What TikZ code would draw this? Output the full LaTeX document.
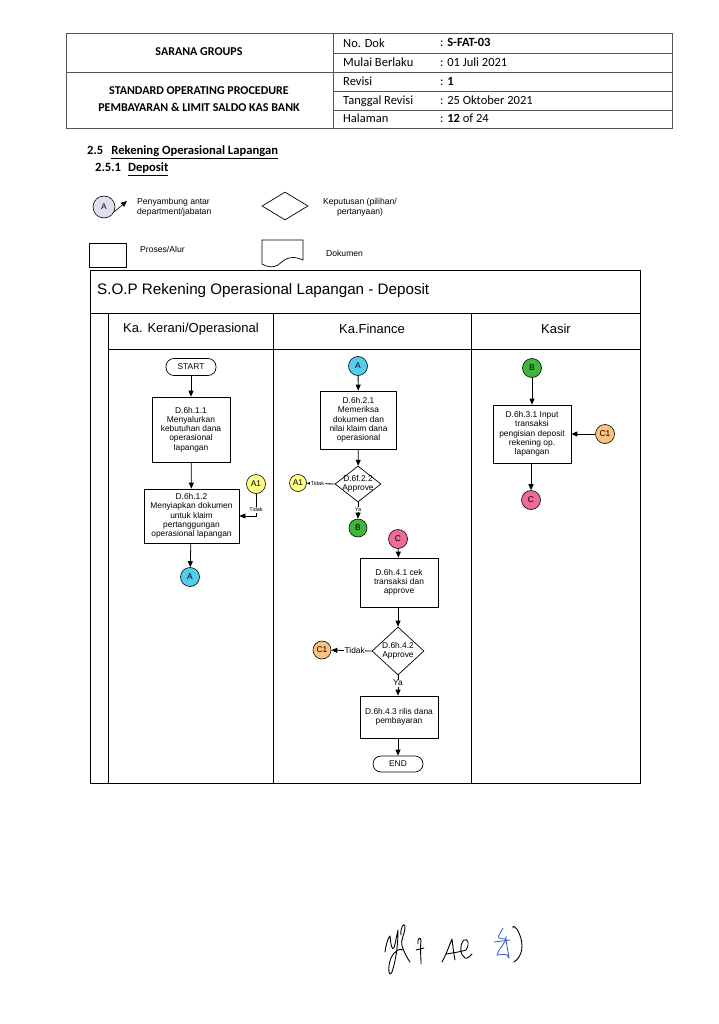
\documentclass[tikz,border=0pt]{standalone}
\usepackage{fontspec}
\setmainfont{Liberation Sans}
\newfontfamily\hdrfont{Carlito}
\usetikzlibrary{arrows.meta,shapes.geometric,calc}
\definecolor{cyanc}{HTML}{55CCEE}
\definecolor{yellowc}{HTML}{FFFF88}
\definecolor{greenc}{HTML}{3DB83D}
\definecolor{pinkc}{HTML}{EE6A98}
\definecolor{orangec}{HTML}{F9C27E}
\definecolor{lavc}{HTML}{E4DDF2}
\definecolor{hdrgray}{HTML}{555555}
\definecolor{signblue}{HTML}{3355CC}
\begin{document}
\begin{tikzpicture}[x=1pt,y=-1pt,
  arr/.style={-{Triangle[length=6pt,width=5pt]}, line width=0.8pt},
  proc/.style={draw, line width=0.7pt, align=center, inner sep=1pt, font=\fontsize{8.4}{9.3}\selectfont},
  term/.style={draw, line width=0.7pt, rounded corners=8pt, minimum width=50pt, minimum height=17pt, inner sep=0pt, font=\fontsize{8.4}{9}\selectfont},
  conn/.style={circle, draw, line width=0.6pt, minimum size=19pt, inner sep=0pt, font=\fontsize{8.4}{9}\selectfont},
  dec/.style={diamond, draw, line width=0.7pt, inner sep=0pt},
  dectext/.style={align=center, font=\fontsize{8.4}{9.3}\selectfont, inner sep=0pt},
  tinylbl/.style={fill=white, inner sep=0.5pt, font=\fontsize{5.5}{6}\selectfont},
  smalllbl/.style={fill=white, inner sep=0.5pt, font=\fontsize{8.4}{9}\selectfont},
  hdr/.style={font=\hdrfont\fontsize{12.5}{14}\selectfont, inner sep=0pt},
  hdrb/.style={font=\hdrfont\bfseries\fontsize{12}{17}\selectfont, inner sep=0pt, align=center},
  legend/.style={font=\fontsize{8.6}{10}\selectfont, inner sep=0pt, align=center},
  frame/.style={line width=0.8pt},
  sig/.style={line width=0.9pt, line cap=round, line join=round}
]
\useasboundingbox[fill=white] (0,0) rectangle (719,1024);

% ---------- header table ----------
\draw[hdrgray, line width=0.8pt] (66,33) rectangle (672,128);
\draw[hdrgray, line width=0.8pt] (333,33) -- (333,128);
\draw[hdrgray, line width=0.8pt] (66,72) -- (333,72);
\foreach \yy in {53,72,91,110} \draw[hdrgray, line width=0.8pt] (333,\yy) -- (672,\yy);
\node[hdrb] (tsarana) at (199,52) {SARANA GROUPS};
\node[hdrb] (tsop) at (199,99) {STANDARD OPERATING PROCEDURE\\PEMBAYARAN \& LIMIT SALDO KAS BANK};
\node[hdr, anchor=base west] (l1) at (343,47.5) {No. Dok};
\node[hdr, anchor=base west] (l2) at (343,67) {Mulai Berlaku};
\node[hdr, anchor=base west] (l3) at (343,85.5) {Revisi};
\node[hdr, anchor=base west] (l4) at (343,104.5) {Tanggal Revisi};
\node[hdr, anchor=base west] (l5) at (343,123) {Halaman};
\node[hdr, anchor=base west] (v1) at (440,46.5) {: \textbf{S-FAT-03}};
\node[hdr, anchor=base west] (v2) at (440,67) {: 01 Juli 2021};
\node[hdr, anchor=base west] (v3) at (440,85.5) {: \textbf{1}};
\node[hdr, anchor=base west] (v4) at (440,104.5) {: 25 Oktober 2021};
\node[hdr, anchor=base west] (v5) at (440,123) {: \textbf{12} of 24};

% ---------- section titles ----------
\node[anchor=west, inner sep=0pt, font=\hdrfont\bfseries\fontsize{12.6}{14}\selectfont] (sec1) at (87,152) {2.5\hspace{8pt}\underline{Rekening Operasional Lapangan}};
\node[anchor=west, inner sep=0pt, font=\hdrfont\bfseries\fontsize{12.6}{14}\selectfont] (sec2) at (95,169) {2.5.1\hspace{7pt}\underline{Deposit}};

% ---------- legend ----------
\node[conn, fill=lavc, minimum size=22pt] (lgA) at (104,207) {A};
\coordinate (lgAend) at (127,201);
\draw[arr, line width=0.6pt] (lgA.-25) -- (lgAend);
\node[legend, align=left, anchor=west] (lgAt) at (137,207) {Penyambung antar\\department/jabatan};
\node[dec, minimum width=46pt, minimum height=28pt] (lgD) at (285,206) {};
\node[legend] (lgDt) at (360,207) {Keputusan (pilihan/\\pertanyaan)};
\node[draw, line width=0.7pt, minimum width=37pt, minimum height=24pt, inner sep=0pt] (lgP) at (107.5,255) {};
\node[legend, anchor=west] (lgPt) at (140,249) {Proses/Alur};
\draw[line width=0.7pt] (262,264) -- (262,240) -- (303,240) -- (303,260)
   .. controls (290,254) and (284,260) .. (278,265) .. controls (273,268) and (267,267) .. cycle;
\node[legend, anchor=west] (lgDoc) at (326,253) {Dokumen};

% ---------- swimlane frame ----------
\draw[frame] (90,270) rectangle (640,783);
\draw[frame] (90,313) -- (640,313);
\draw[frame] (108,313) -- (108,783);
\draw[frame] (108,349) -- (640,349);
\draw[frame] (273,313) -- (273,783);
\draw[frame] (471,313) -- (471,783);
\node[anchor=west, inner sep=0pt, font=\fontsize{15.2}{17}\selectfont] (title) at (97,291) {S.O.P Rekening Operasional Lapangan - Deposit};
\node[font=\fontsize{13}{15}\selectfont, inner sep=0pt] (lane1) at (191,329) {Ka. Kerani/Operasional};
\node[font=\fontsize{13}{15}\selectfont, inner sep=0pt] (lane2) at (372,329) {Ka.Finance};
\node[font=\fontsize{13}{15}\selectfont, inner sep=0pt] (lane3) at (556,329) {Kasir};

% ---------- lane 1 ----------
\node[term] (start) at (191,367) {START};
\node[proc, minimum width=78pt, minimum height=65pt] (b11) at (191,429.5) {D.6h.1.1\\Menyalurkan\\kebutuhan dana\\operasional\\lapangan};
\node[proc, minimum width=95pt, minimum height=54pt] (b12) at (191.5,516) {D.6h.1.2\\Menyiapkan dokumen\\untuk klaim\\pertanggungan\\operasional lapangan};
\node[conn, fill=yellowc] (a1l) at (256,484) {A1};
\node[conn, fill=cyanc] (al) at (190,577) {A};
\draw[arr] (start) -- (b11);
\draw[arr] (b11) -- (b12);
\draw[arr] (b12) -- (al);
\draw[arr] (a1l) |- (b12.east);
\node[tinylbl] (tidak1) at (256,510) {Tidak};

% ---------- lane 2 ----------
\node[conn, fill=cyanc] (am) at (358,366) {A};
\node[proc, minimum width=76pt, minimum height=58pt] (b21) at (358.5,420) {D.6h.2.1\\Memeriksa\\dokumen dan\\nilai klaim dana\\operasional};
\node[dec, minimum width=46pt, minimum height=36pt] (d22) at (358,484) {};
\node[dectext] (d22t) at (358,484) {D.6f.2.2\\Approve};
\node[conn, fill=yellowc, minimum size=17pt] (a1m) at (298,483) {A1};
\node[conn, fill=greenc, minimum size=18pt] (bm) at (358,528) {B};
\draw[arr] (am) -- (b21);
\draw[arr] (b21) -- (d22);
\draw[arr] (d22.west) -- node[tinylbl, pos=0.62] {Tidak} (a1m);
\draw[arr] (d22.south) -- node[tinylbl, pos=0.45] {Ya} (bm);

\node[conn, fill=pinkc] (cm) at (398,539) {C};
\node[proc, minimum width=78pt, minimum height=49pt] (b41) at (399,582.5) {D.6h.4.1 cek\\transaksi dan\\approve};
\node[dec, minimum width=52pt, minimum height=48pt] (d42) at (398,651) {};
\node[dectext] (d42t) at (398,651) {D.6h.4.2\\Approve};
\node[conn, fill=orangec, minimum size=18pt] (c1m) at (322,650) {C1};
\node[proc, minimum width=78pt, minimum height=42pt] (b43) at (399,717) {D.6h.4.3 rilis dana\\pembayaran};
\node[term, minimum height=16pt] (endn) at (398,764) {END};
\draw[arr] (cm) -- (b41);
\draw[arr] (b41.south -| d42) -- (d42);
\draw[arr] (d42.west) -- node[smalllbl, pos=0.42] {Tidak} (c1m);
\draw[arr] (d42.south) -- node[smalllbl, pos=0.38] {Ya} (b43.north -| d42);
\draw[arr] (b43.south -| endn) -- (endn);

% ---------- lane 3 ----------
\node[conn, fill=greenc] (bk) at (532,368) {B};
\node[proc, minimum width=78pt, minimum height=58pt] (b31) at (532,434) {D.6h.3.1 Input\\transaksi\\pengisian deposit\\rekening op.\\lapangan};
\node[conn, fill=orangec] (c1k) at (605,434) {C1};
\node[conn, fill=pinkc] (ck) at (531,500) {C};
\draw[arr] (bk) -- (b31);
\draw[arr] (c1k) -- (b31);
\draw[arr] (b31.south -| ck) -- (ck);

% ---------- signatures ----------
\draw[sig] (385,952) .. controls (386,944) and (388,938) .. (390,936) .. controls (391,946) and (392,950) .. (394,948)
  .. controls (396,940) and (397,934) .. (398,930) .. controls (398,945) and (396,960) .. (392,972)
  .. controls (389,978) and (387,968) .. (391,958) .. controls (395,950) and (400,948) .. (403,950);
\draw[sig] (401,935) .. controls (400,928) and (404,922) .. (405,926) .. controls (405,935) and (400,940) .. (402,946)
  .. controls (404,952) and (407,958) .. (410,962);
\draw[sig] (418,944) .. controls (417,938) and (421,936) .. (421,941) .. controls (420,950) and (421,956) .. (421,964);
\draw[sig] (416,950) -- (424,948);
\draw[sig] (442,962) .. controls (446,955) and (449,946) .. (452,939) .. controls (453,948) and (454,955) .. (455,960);
\draw[sig] (446,954) .. controls (452,953) and (460,952) .. (466,950) .. controls (470,944) and (468,938) .. (464,940)
  .. controls (459,945) and (460,955) .. (465,958) .. controls (468,959) and (470,956) .. (472,954);
\draw[sig, signblue, line width=0.8pt] (503,928) .. controls (501,933) and (497,936) .. (499,938) .. controls (503,940) and (507,937) .. (505,941)
  .. controls (503,946) and (498,950) .. (497,955) .. controls (502,955) and (507,952) .. (509,958)
  .. controls (508,950) and (506,944) .. (506,936);
\draw[sig, signblue, line width=0.8pt] (494,942) -- (510,940);
\draw[sig] (513,928) .. controls (512,925) and (516,926) .. (519,933) .. controls (524,944) and (523,956) .. (514,962);
\end{tikzpicture}
\end{document}
